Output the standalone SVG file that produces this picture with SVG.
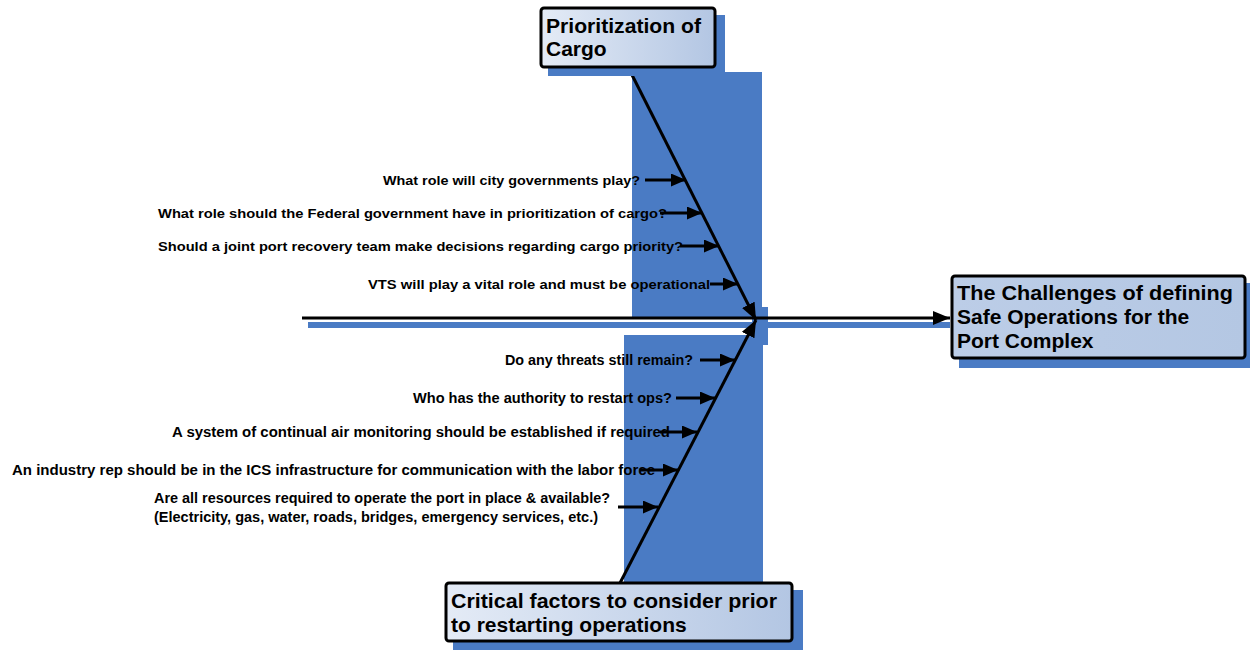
<svg xmlns="http://www.w3.org/2000/svg" width="1250" height="650" viewBox="0 0 1250 650">
<defs>
<style>
.bg{fill:#4a7bc4}
.box{stroke:#000;stroke-width:3}
.title{font-family:"Liberation Sans",Arial,sans-serif;font-weight:bold;font-size:21px;fill:#000}
.lbl{font-family:"Liberation Sans",Arial,sans-serif;font-weight:bold;font-size:13px;fill:#000}
.lbl2{font-family:"Liberation Sans",Arial,sans-serif;font-weight:bold;font-size:14px;fill:#000}
.bone{stroke:#000;stroke-width:3;fill:none}
.sub{stroke:#000;stroke-width:3;fill:none;marker-end:url(#ah)}
</style>
<linearGradient id="g1" x1="0" y1="0" x2="1" y2="0">
<stop offset="0" stop-color="#e4ebf6"/>
<stop offset="1" stop-color="#b3c6e3"/>
</linearGradient>
<linearGradient id="g2" x1="0" y1="0" x2="1" y2="0">
<stop offset="0" stop-color="#bccde7"/>
<stop offset="1" stop-color="#b4c7e3"/>
</linearGradient>
<marker id="ah" viewBox="0 0 10 10" refX="10" refY="5" markerWidth="15" markerHeight="13" preserveAspectRatio="none" orient="auto" markerUnits="userSpaceOnUse">
<path d="M0,0 L10,5 L0,10 Z" fill="#000"/>
</marker>
<marker id="ahb" viewBox="0 0 10 10" refX="10" refY="5" markerWidth="17" markerHeight="14" preserveAspectRatio="none" orient="auto" markerUnits="userSpaceOnUse">
<path d="M0,0 L10,5 L0,10 Z" fill="#000"/>
</marker>
</defs>

<g id="background">
<rect class="bg" x="632" y="72" width="130" height="246"/>
<rect class="bg" x="624" y="335" width="139" height="250"/>
<rect class="bg" x="752" y="307" width="16" height="38"/>
<rect class="bg" x="308" y="322" width="642" height="6"/>
</g>

<g id="connectors">
<line class="bone" x1="302" y1="318" x2="950" y2="318" marker-end="url(#ahb)"/>
<line class="bone" x1="628" y1="67" x2="756" y2="320" marker-end="url(#ahb)"/>
<line class="bone" x1="620" y1="583" x2="756" y2="320" marker-end="url(#ahb)"/>
<line class="sub" x1="645" y1="180" x2="686" y2="180"/>
<line class="sub" x1="660" y1="213" x2="702" y2="213"/>
<line class="sub" x1="680" y1="246" x2="719" y2="246"/>
<line class="sub" x1="710" y1="284" x2="738" y2="284"/>
<line class="sub" x1="700" y1="360" x2="735" y2="360"/>
<line class="sub" x1="676" y1="398" x2="715" y2="398"/>
<line class="sub" x1="660" y1="432" x2="697" y2="432"/>
<line class="sub" x1="640" y1="470" x2="678" y2="470"/>
<line class="sub" x1="618" y1="507" x2="658" y2="507"/>
</g>

<g id="node-cargo">
<rect class="bg" x="548" y="15" width="177" height="61"/>
<rect class="box" x="541" y="8" width="174" height="59" rx="3" fill="url(#g1)"/>
<text class="title" x="546" y="33" textLength="155" lengthAdjust="spacingAndGlyphs">Prioritization of</text>
<text class="title" x="546" y="56">Cargo</text>
</g>

<g id="node-effect">
<rect class="bg" x="959" y="283" width="291" height="85"/>
<rect class="box" x="952" y="276" width="293" height="82" rx="3" fill="url(#g2)"/>
<text class="title" x="957" y="300" textLength="276" lengthAdjust="spacingAndGlyphs">The Challenges of defining</text>
<text class="title" x="957" y="324">Safe Operations for the</text>
<text class="title" x="957" y="348">Port Complex</text>
</g>

<g id="node-critical">
<rect class="bg" x="453" y="590" width="350" height="60"/>
<rect class="box" x="446" y="583" width="346" height="58" rx="3" fill="url(#g1)"/>
<text class="title" x="451" y="608" textLength="326" lengthAdjust="spacingAndGlyphs">Critical factors to consider prior</text>
<text class="title" x="451" y="632">to restarting operations</text>
</g>

<g id="causes-upper">
<text class="lbl" x="383" y="185" textLength="257" lengthAdjust="spacingAndGlyphs">What role will city governments play?</text>
<text class="lbl" x="158" y="218" textLength="509" lengthAdjust="spacingAndGlyphs">What role should the Federal government have in prioritization of cargo?</text>
<text class="lbl" x="158" y="251" textLength="525" lengthAdjust="spacingAndGlyphs">Should a joint port recovery team make decisions regarding cargo priority?</text>
<text class="lbl" x="368" y="289" textLength="342" lengthAdjust="spacingAndGlyphs">VTS will play a vital role and must be operational</text>
</g>

<g id="causes-lower">
<text class="lbl2" x="505" y="365" textLength="188" lengthAdjust="spacingAndGlyphs">Do any threats still remain?</text>
<text class="lbl2" x="413" y="403" textLength="259" lengthAdjust="spacingAndGlyphs">Who has the authority to restart ops?</text>
<text class="lbl2" x="172" y="437" textLength="498" lengthAdjust="spacingAndGlyphs">A system of continual air monitoring should be established if required</text>
<text class="lbl2" x="12" y="475" textLength="643" lengthAdjust="spacingAndGlyphs">An industry rep should be in the ICS infrastructure for communication with the labor force</text>
<text class="lbl2" x="154" y="503" textLength="456" lengthAdjust="spacingAndGlyphs">Are all resources required to operate the port in place &amp; available?</text>
<text class="lbl2" x="154" y="522" textLength="444" lengthAdjust="spacingAndGlyphs">(Electricity, gas, water, roads, bridges, emergency services, etc.)</text>
</g>
</svg>
